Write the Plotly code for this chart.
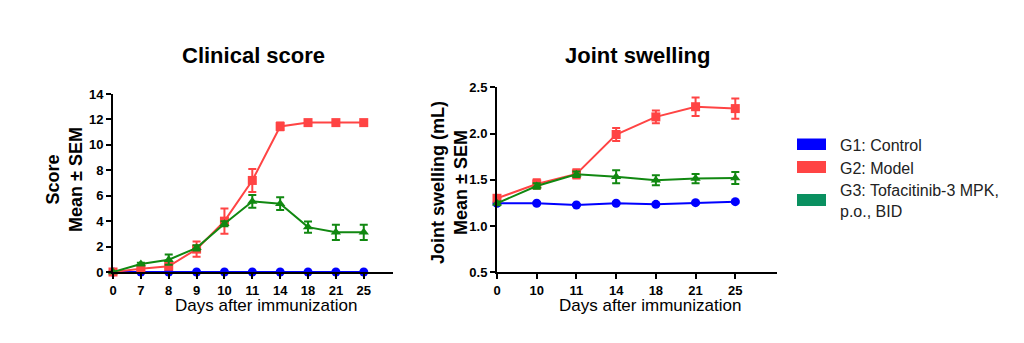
import plotly.graph_objects as go

# ---- data ----
days_cs = ["0", "7", "8", "9", "10", "11", "14", "18", "21", "25"]
cs_control = [0, 0, 0, 0, 0, 0, 0, 0, 0, 0]
cs_control_err = [0, 0, 0, 0, 0, 0, 0, 0, 0, 0]
cs_model = [0, 0.26, 0.45, 1.8, 4.0, 7.2, 11.45, 11.75, 11.75, 11.75]
cs_model_err = [0, 0.1, 0.15, 0.6, 1.0, 0.9, 0.3, 0.1, 0.1, 0.1]
cs_tofa = [0, 0.63, 0.97, 1.9, 3.8, 5.55, 5.37, 3.53, 3.12, 3.12]
cs_tofa_err = [0, 0.1, 0.4, 0.2, 0.2, 0.5, 0.5, 0.45, 0.6, 0.6]

days_js = ["0", "10", "11", "14", "18", "21", "25"]
js_control = [1.246, 1.246, 1.228, 1.246, 1.235, 1.253, 1.264]
js_control_err = [0.01, 0.01, 0.01, 0.01, 0.01, 0.01, 0.01]
js_model = [1.30, 1.455, 1.563, 1.99, 2.18, 2.29, 2.27]
js_model_err = [0.02, 0.05, 0.05, 0.07, 0.07, 0.1, 0.11]
js_tofa = [1.246, 1.433, 1.56, 1.534, 1.495, 1.513, 1.52]
js_tofa_err = [0.02, 0.03, 0.03, 0.07, 0.055, 0.05, 0.065]

group_names = ["G1: Control", "G2: Model", "G3: Tofacitinib-3 MPK,<br>p.o., BID"]
line_colors = ["#0000FF", "#FF4444", "#118811"]
legend_colors = ["#0000FF", "#FF4444", "#0A9060"]
symbols = ["circle", "square", "triangle-up"]

W, H = 1024, 343
def px(x):
    return x / W
def py(y):
    return 1 - y / H

FONT = "Liberation Sans, Arial, sans-serif"

fig = go.Figure()

def add_series(x, ys, errs, xa, ya):
    for i in range(3):
        fig.add_trace(go.Scatter(
            x=x, y=ys[i], xaxis=xa, yaxis=ya, mode="lines+markers",
            line=dict(color=line_colors[i], width=2),
            marker=dict(symbol=symbols[i], size=9, color=line_colors[i]),
            error_y=dict(type="data", array=errs[i], visible=True,
                         color=line_colors[i], thickness=2, width=4),
            cliponaxis=False, showlegend=False,
        ))

add_series(days_cs, [cs_control, cs_model, cs_tofa],
           [cs_control_err, cs_model_err, cs_tofa_err], "x", "y")
add_series(days_js, [js_control, js_model, js_tofa],
           [js_control_err, js_model_err, js_tofa_err], "x2", "y2")

axis_common = dict(
    showline=True, linecolor="black", linewidth=2, ticks="outside",
    tickcolor="black", tickwidth=2, ticklen=5, showgrid=False, zeroline=False,
    automargin=False,
    tickfont=dict(family=FONT, size=13, color="black", weight="bold"),
)

fig.update_layout(
    width=W, height=H, margin=dict(l=0, r=0, t=0, b=0, autoexpand=False),
    paper_bgcolor="white", plot_bgcolor="white", showlegend=False,
    xaxis=dict(domain=[px(113), px(393)], anchor="y", type="category",
               categoryorder="array", categoryarray=days_cs,
               range=[0, 10.05], **axis_common),
    yaxis=dict(domain=[py(272), py(94)], anchor="x", range=[0, 14],
               tickvals=[0, 2, 4, 6, 8, 10, 12, 14], **axis_common),
    xaxis2=dict(domain=[px(497), px(777)], anchor="y2", type="category",
                categoryorder="array", categoryarray=days_js,
                range=[0, 7.05], **axis_common),
    yaxis2=dict(domain=[py(272.3), py(87.3)], anchor="x2", range=[0.5, 2.5],
                tickvals=[0.5, 1.0, 1.5, 2.0, 2.5], tickformat=".1f", **axis_common),
)

annotations = [
    dict(text="<b>Clinical score</b>", x=px(253), y=py(56), font=dict(size=22)),
    dict(text="<b>Joint swelling</b>", x=px(637), y=py(56), font=dict(size=22)),
    dict(text="Days after immunization", x=px(266), y=py(305), font=dict(size=17)),
    dict(text="Days after immunization", x=px(650), y=py(305), font=dict(size=17)),
    dict(text="<b>Score</b><br><b>Mean ± SEM</b>", x=px(65), y=py(180),
         textangle=-90, font=dict(size=18)),
    dict(text="<b>Joint swelling (mL)</b><br><b>Mean ± SEM</b>", x=px(449), y=py(183),
         textangle=-90, font=dict(size=18)),
]
for a in annotations:
    a.update(xref="paper", yref="paper", showarrow=False,
             xanchor="center", yanchor="middle")
    a["font"].update(family=FONT, color="black")
    fig.add_annotation(**a)

sw_y = [(138.5, 150), (161, 173), (194, 206)]
txt_y = [145, 168, 201]
for i in range(3):
    fig.add_shape(type="rect", xref="paper", yref="paper",
                  x0=px(797), x1=px(826), y0=py(sw_y[i][1]), y1=py(sw_y[i][0]),
                  fillcolor=legend_colors[i], line=dict(width=0))
    fig.add_annotation(text=group_names[i], xref="paper", yref="paper",
                       x=px(838), y=py(txt_y[i]), xanchor="left", yanchor="middle",
                       align="left", showarrow=False,
                       font=dict(family=FONT, size=16, color="#222222"))

fig.write_html("out.html")
